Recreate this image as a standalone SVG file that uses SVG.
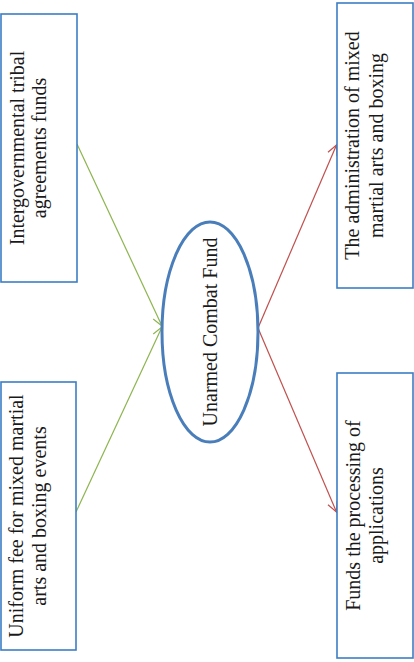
<svg xmlns="http://www.w3.org/2000/svg" width="414" height="662" viewBox="0 0 414 662">
<defs>
<marker id="ag" markerWidth="12" markerHeight="12" refX="11" refY="6" orient="auto" markerUnits="userSpaceOnUse"><path d="M1,1 L11,6 L1,11" fill="none" stroke="#8db54f" stroke-width="1.2"/></marker>
<marker id="ar" markerWidth="12" markerHeight="12" refX="11" refY="6" orient="auto" markerUnits="userSpaceOnUse"><path d="M1,1 L11,6 L1,11" fill="none" stroke="#c0504d" stroke-width="1.2"/></marker>
</defs>
<style>
.box{fill:#fff;stroke:#3b7dc4;stroke-width:1.6}
.t{font-family:"Liberation Serif","Times New Roman",serif;font-size:20px;fill:#1a1a1a;text-anchor:middle}
.g{stroke:#8db54f;stroke-width:1.2;fill:none}
.r{stroke:#c0504d;stroke-width:1.2;fill:none}
</style>
<rect width="414" height="662" fill="#fff"/>
<g id="connectors">
<line class="g" x1="77" y1="144" x2="162" y2="326" marker-end="url(#ag)"/>
<line class="g" x1="76" y1="512" x2="162" y2="327" marker-end="url(#ag)"/>
<line class="r" x1="258" y1="328" x2="336.5" y2="145" marker-end="url(#ar)"/>
<line class="r" x1="258" y1="328" x2="336.5" y2="512" marker-end="url(#ar)"/>
</g>
<g id="n1">
<rect class="box" x="1" y="14" width="76" height="268"/>
<text class="t" transform="translate(24,148) rotate(-90)">Intergovernmental tribal</text>
<text class="t" transform="translate(46,148) rotate(-90)">agreements funds</text>
</g>
<g id="n2">
<rect class="box" x="1" y="382" width="75" height="268"/>
<text class="t" transform="translate(23,516) rotate(-90)">Uniform fee for mixed martial</text>
<text class="t" transform="translate(46,516) rotate(-90)">arts and boxing events</text>
</g>
<g id="center">
<ellipse cx="210" cy="332" rx="48" ry="110" fill="#fff" stroke="#4a7ebb" stroke-width="3"/>
<text class="t" transform="translate(217,332) rotate(-90)">Unarmed Combat Fund</text>
</g>
<g id="n3">
<rect class="box" x="337" y="3" width="76" height="285"/>
<text class="t" transform="translate(359,145.5) rotate(-90)">The administration of mixed</text>
<text class="t" transform="translate(383,145.5) rotate(-90)">martial arts and boxing</text>
</g>
<g id="n4">
<rect class="box" x="337" y="373" width="76" height="285"/>
<text class="t" transform="translate(360,515.5) rotate(-90)">Funds the processing of</text>
<text class="t" transform="translate(383,515.5) rotate(-90)">applications</text>
</g>
</svg>
